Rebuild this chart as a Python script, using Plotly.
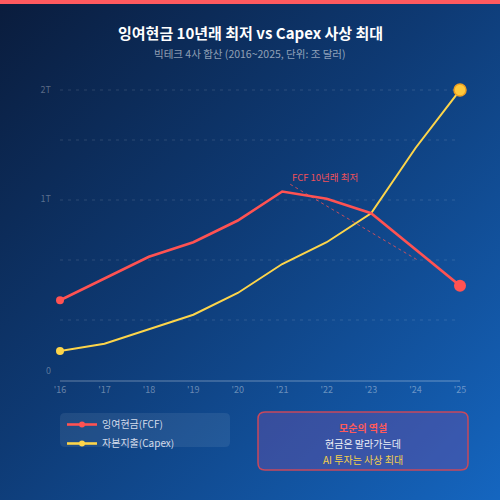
import base64
import plotly.graph_objects as go

# ---- data ----
years = [2016, 2017, 2018, 2019, 2020, 2021, 2022, 2023, 2024, 2025]
year_labels = ["'16", "'17", "'18", "'19", "'20", "'21", "'22", "'23", "'24", "'25"]
fcf = [0.55, 0.70, 0.85, 0.95, 1.10, 1.30, 1.25, 1.15, 0.90, 0.65]      # 잉여현금(FCF), 조 달러
capex = [0.20, 0.25, 0.35, 0.45, 0.60, 0.80, 0.95, 1.15, 1.60, 2.00]   # 자본지출(Capex), 조 달러
y_tick_vals = [0.064, 1.248, 2.0]
y_tick_text = ["0", "1T", "2T"]

FONT = "Noto Sans CJK KR"
RED = "#ff5252"
YEL = "#fdd54a"

W, H = 500, 500
L, R, T, B = 60, 40, 90, 120
PW, PH = W - L - R, H - T - B


def px(x):
    return (x - L) / PW


def py(y):
    return (H - B - y) / PH


svg = f"""<svg xmlns='http://www.w3.org/2000/svg' width='500' height='500'>
<defs><linearGradient id='g' x1='0' y1='0' x2='1' y2='1'>
<stop offset='0' stop-color='#0a1c3c'/>
<stop offset='0.45' stop-color='#0e3a74'/>
<stop offset='1' stop-color='#1566c0'/>
</linearGradient></defs>
<rect width='500' height='500' fill='url(#g)'/>
</svg>"""
bg_src = "data:image/svg+xml;base64," + base64.b64encode(svg.encode()).decode()

n = len(years)
end_sizes = [8] + [0] * (n - 2) + [12]

fig = go.Figure()

fig.add_trace(go.Scatter(x=years, y=capex, mode="lines+markers", name="자본지출(Capex)",
                         line=dict(color=YEL, width=2),
                         marker=dict(color=[YEL] * (n - 1) + ["#ffc93c"], size=end_sizes, opacity=1,
                                     line=dict(color=["rgba(0,0,0,0)"] * (n - 1) + ["#f0a020"],
                                               width=[0] * (n - 1) + [1.5])),
                         showlegend=False, cliponaxis=False))
fig.add_trace(go.Scatter(x=years, y=fcf, mode="lines+markers", name="잉여현금(FCF)",
                         line=dict(color=RED, width=2.6),
                         marker=dict(color=RED, size=end_sizes, opacity=1, line=dict(width=0)),
                         showlegend=False, cliponaxis=False))

# legend entries
fig.add_trace(go.Scatter(x=[None], y=[None], mode="lines+markers", name="잉여현금(FCF)",
                         line=dict(color=RED, width=2.6), marker=dict(color=RED, size=6)))
fig.add_trace(go.Scatter(x=[None], y=[None], mode="lines+markers", name="자본지출(Capex)",
                         line=dict(color=YEL, width=2.6), marker=dict(color=YEL, size=6)))

# horizontal dashed guide lines (background grid)
grid_levels = [1, 2, 3, 4, 290 / 60]
shapes = []
for g in grid_levels:
    shapes.append(dict(type="line", xref="paper", yref="paper", x0=0, x1=0.995,
                       y0=g * 60 / PH, y1=g * 60 / PH, layer="below",
                       line=dict(color="rgba(255,255,255,0.13)", width=1, dash="3px,5px")))

shapes += [
    # top stripe
    dict(type="rect", xref="paper", yref="paper", x0=px(0), x1=px(500), y0=py(4), y1=py(0),
         fillcolor="#ff5a5f", line=dict(width=0), layer="above"),
    # FCF annotation dashed line
    dict(type="line", xref="x", yref="y", x0=2021.18, y0=1.35, x1=2024.03, y1=0.83,
         line=dict(color="rgba(255,82,82,0.75)", width=1, dash="3px,3px"), layer="below"),
]


def rounded(x0, y0, x1, y1, r):
    return (f"M{px(x0 + r)},{py(y0)} L{px(x1 - r)},{py(y0)} Q{px(x1)},{py(y0)} {px(x1)},{py(y0 + r)} "
            f"L{px(x1)},{py(y1 - r)} Q{px(x1)},{py(y1)} {px(x1 - r)},{py(y1)} "
            f"L{px(x0 + r)},{py(y1)} Q{px(x0)},{py(y1)} {px(x0)},{py(y1 - r)} "
            f"L{px(x0)},{py(y0 + r)} Q{px(x0)},{py(y0)} {px(x0 + r)},{py(y0)} Z")


shapes.append(dict(type="path", xref="paper", yref="paper", path=rounded(60, 413, 230, 447, 5),
                   fillcolor="rgba(255,255,255,0.08)", line=dict(width=0), layer="below"))
shapes.append(dict(type="path", xref="paper", yref="paper", path=rounded(258, 412, 468, 470, 7),
                   fillcolor="rgba(110,80,170,0.42)", line=dict(color="#c8485c", width=1.5), layer="below"))

annotations = [
    dict(text="<b>잉여현금 10년래 최저 vs Capex 사상 최대</b>", xref="paper", yref="paper",
         x=px(250), y=py(33), xanchor="center", yanchor="middle", showarrow=False,
         font=dict(family=FONT, size=15, color="#ffffff")),
    dict(text="빅테크 4사 합산 (2016~2025, 단위: 조 달러)", xref="paper", yref="paper",
         x=px(250), y=py(53), xanchor="center", yanchor="middle", showarrow=False,
         font=dict(family=FONT, size=10.5, color="rgba(255,255,255,0.55)")),
    dict(text="FCF 10년래 최저", xref="x", yref="y", x=2021.18, y=1.40, xanchor="left", yanchor="middle",
         showarrow=False, font=dict(family=FONT, size=9.5, color="#f0505a")),
    dict(text="<b>모순의 역설</b>", xref="paper", yref="paper", x=px(363), y=py(427),
         xanchor="center", yanchor="middle", showarrow=False,
         font=dict(family=FONT, size=10, color="#ff5a5a")),
    dict(text="현금은 말라가는데", xref="paper", yref="paper", x=px(363), y=py(443),
         xanchor="center", yanchor="middle", showarrow=False,
         font=dict(family=FONT, size=10, color="#eef0f6")),
    dict(text="AI 투자는 사상 최대", xref="paper", yref="paper", x=px(363), y=py(459),
         xanchor="center", yanchor="middle", showarrow=False,
         font=dict(family=FONT, size=10, color="#f5d04a")),
]

fig.update_layout(
    width=W, height=H, margin=dict(l=L, r=R, t=T, b=B, pad=0),
    paper_bgcolor="#0f3c78", plot_bgcolor="rgba(0,0,0,0)",
    font=dict(family=FONT),
    images=[dict(source=bg_src, xref="paper", yref="paper", x=px(0), y=py(0),
                 sizex=px(500) - px(0), sizey=py(0) - py(500), sizing="stretch",
                 xanchor="left", yanchor="top", layer="below")],
    shapes=shapes, annotations=annotations,
    xaxis=dict(range=[2016, 2025], tickvals=years, ticktext=year_labels, showgrid=False,
               zeroline=False, showline=True, linecolor="rgba(255,255,255,0.18)", linewidth=2,
               tickfont=dict(family=FONT, size=9, color="rgba(255,255,255,0.38)"), ticks=""),
    yaxis=dict(range=[0, 2.0], tickvals=y_tick_vals, ticktext=y_tick_text, showgrid=False,
               zeroline=False, ticks="", ticklabelstandoff=8,
               tickfont=dict(family=FONT, size=9, color="rgba(255,255,255,0.32)")),
    legend=dict(x=px(62), y=py(410), xanchor="left", yanchor="top", bgcolor="rgba(0,0,0,0)",
                font=dict(family=FONT, size=10, color="#d3dbea"), itemwidth=30, tracegroupgap=0),
    showlegend=True,
    hovermode=False,
)

fig.write_html("out.html")
